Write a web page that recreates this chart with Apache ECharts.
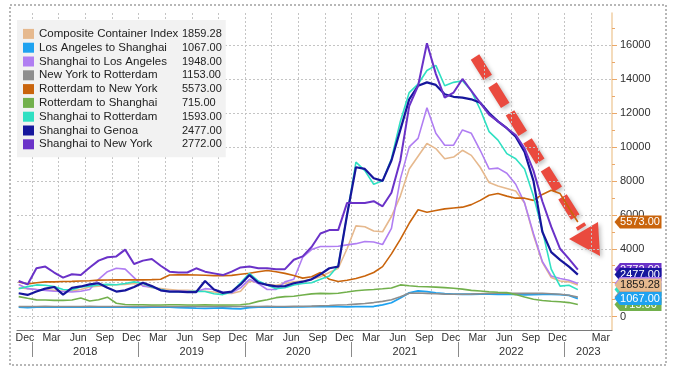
<!DOCTYPE html>
<html><head><meta charset="utf-8">
<script src="https://cdn.jsdelivr.net/npm/echarts@6/dist/echarts.min.js"></script>
<style>html,body{margin:0;padding:0;background:#fff}#c{width:673px;height:374px}</style>
</head><body><div id="c"></div>
<script>
// ---------- DATA ----------
const dates = ['2017-11','2017-12',
 '2018-01','2018-02','2018-03','2018-04','2018-05','2018-06','2018-07','2018-08','2018-09','2018-10','2018-11','2018-12',
 '2019-01','2019-02','2019-03','2019-04','2019-05','2019-06','2019-07','2019-08','2019-09','2019-10','2019-11','2019-12',
 '2020-01','2020-02','2020-03','2020-04','2020-05','2020-06','2020-07','2020-08','2020-09','2020-10','2020-11','2020-12',
 '2021-01','2021-02','2021-03','2021-04','2021-05','2021-06','2021-07','2021-08','2021-09','2021-10','2021-11','2021-12',
 '2022-01','2022-02','2022-03','2022-04','2022-05','2022-06','2022-07','2022-08','2022-09','2022-10','2022-11','2022-12',
 '2023-01','2023-02'];

const seriesNames = ['Composite Container Index','Los Angeles to Shanghai','Shanghai to Los Angeles','New York to Rotterdam',
 'Rotterdam to New York','Rotterdam to Shanghai','Shanghai to Rotterdam','Shanghai to Genoa','Shanghai to New York'];

const composite = [1700,1650,1600,1580,1550,1500,1520,1600,1750,1800, 1850,1880,1900,1950,1850,1700,1650,1600,1550,1550,
 1520,1500,1450,1380,1370,1500,2100,2000,1900,1850, 1950,2050,2100,2200,2350,2600,2850,4000,5350,5300,
 5050,5000,5900,7100,8700,9450,10200,9900,9300,9400, 9800,9500,8800,7900,7700,7550,7400,6700,4800,3200,
 2300,2100,2050,1859.28];
const laToShanghai = [560,540,560,570,570,560,570,580,570,580, 570,560,560,550,550,560,570,560,540,520,
 500,490,500,510,480,460,540,560,560,570, 570,580,580,590,590,590,590,580,590,590,
 600,690,820,1100,1400,1520,1480,1400,1360,1330, 1320,1320,1330,1330,1320,1320,1310,1280,1300,1320,
 1320,1300,1250,1067];
const shanghaiToLA = [1900,1650,1600,1550,1500,1480,1450,1500,1600,2200, 2650,2850,2800,2300,1800,1750,1550,1500,1500,1500,
 1480,1650,1600,1450,1400,1700,2200,1950,1600,1600, 2050,2200,3500,3950,4130,4130,4150,4230,4300,4430,
 4400,4250,5200,8100,10000,10500,12300,10800,10100,10100, 11000,10800,9800,8700,8750,8450,7800,6700,4900,3250,
 2400,2250,2150,1948];
const nyToRotterdam = [600,595,600,605,600,600,595,600,605,600, 600,600,595,600,600,605,600,600,600,595,
 600,600,600,605,600,600,600,600,605,600, 600,605,610,620,640,660,690,700,740,780,
 830,900,1000,1180,1380,1390,1370,1350,1330,1320, 1320,1330,1350,1370,1380,1380,1370,1370,1370,1380,
 1350,1320,1260,1153];
const rotterdamToNY = [2050,1920,2000,2050,2050,2070,2080,2100,2120,2150, 2160,2170,2170,2170,2170,2180,2200,2450,2460,2460,
 2450,2440,2420,2420,2430,2500,2560,2650,2720,2650, 2550,2420,2270,2350,2600,2200,2070,2150,2250,2400,
 2600,2950,3700,4550,5500,6300,6150,6250,6350,6400, 6450,6600,6850,7150,7250,7100,6980,6980,6850,7200,
 7450,7250,6400,5573];
const rotterdamToShanghai = [1180,1080,990,980,960,960,980,1100,920,1000, 1150,790,720,700,700,690,690,700,700,690,
 690,700,690,690,690,700,760,900,1000,1120, 1180,1200,1280,1340,1370,1360,1380,1450,1530,1570,
 1600,1640,1690,1870,1820,1780,1760,1740,1710,1675, 1620,1550,1510,1470,1440,1415,1300,1160,1030,950,
 910,880,830,715];
const shanghaiToRotterdam = [1650,1770,1870,1850,1770,1600,1580,1750,1800,1870, 1900,1880,1950,2050,1950,1750,1600,1480,1470,1480,
 1500,1480,1350,1300,1450,2000,2550,2100,1870,1650, 1700,1870,1950,2000,2200,2400,3000,6000,9100,8600,
 7800,8000,9300,11500,13200,13700,14500,14800,13600,13800, 13900,13300,12200,10900,10400,9600,9300,8700,7100,5100,
 2800,1800,1850,1593];
const shanghaiToGenoa = [1380,1280,1480,1650,1750,1300,1700,1780,1900,1970, 1700,1480,1550,1750,2000,1800,1550,1480,1480,1450,
 1450,2100,1600,1400,1480,1900,2450,2000,1870,1780, 1800,1970,2060,2200,2500,2850,2950,6000,8800,8700,
 8150,8000,9200,11000,12800,13600,13800,13650,13100,12950, 12900,12800,12600,12000,11500,11100,10600,9700,8000,5000,
 3800,3350,2950,2477];
const shanghaiToNY = [2100,1900,2850,2950,2600,2300,2500,2450,2900,3300, 3500,3550,3950,3100,3300,3400,3000,2650,2600,2600,
 2850,2650,2550,2450,2650,2900,2950,2850,2850,2800, 2800,3350,3550,4100,4900,5100,5100,6700,6700,6700,
 6800,6500,7300,9200,12400,13600,16100,14300,12900,13200, 14000,13300,12600,11900,11500,11100,10700,9900,8600,6800,
 5300,4000,3400,2772];

const monthLabels = ['Dec','Mar','Jun','Sep','Dec','Mar','Jun','Sep','Dec','Mar','Jun','Sep','Dec','Mar','Jun','Sep',
 'Dec','Mar','Jun','Sep','Dec','Mar'];
const monthLabelDates = ['2017-12','2018-03','2018-06','2018-09','2018-12','2019-03','2019-06','2019-09','2019-12',
 '2020-03','2020-06','2020-09','2020-12','2021-03','2021-06','2021-09','2021-12','2022-03','2022-06','2022-09','2022-12','2023-03'];
const yearLabels = ['2018','2019','2020','2021','2022','2023'];
const yTickLabels = [0,2000,4000,6000,8000,10000,12000,14000,16000];

// ---------- HELPERS ----------
const FONT = '"Liberation Sans", Arial, sans-serif';
function toMonth(d){ const [y,m] = d.split('-').map(Number); return (y-2018)*12 + (m-1) + 0.5; }
const X_MIN = -1.69, X_MAX = 65.35, Y_MIN = -785, Y_MAX = 17885;

const valuesList = [composite, laToShanghai, shanghaiToLA, nyToRotterdam, rotterdamToNY, rotterdamToShanghai,
  shanghaiToRotterdam, shanghaiToGenoa, shanghaiToNY];
const colors = ['#e6b98e','#1ea2f0','#b07ef2','#8e8e8e','#c9640c','#72b04c','#2fe0c2','#16169c','#6a32c8'];
const widths = [1.6,1.8,1.6,1.6,1.6,1.6,1.6,2.2,2.0];
const tagText = ['#1a1a1a','#fff','#fff','#fff','#fff','#fff','#fff','#fff','#fff'];

const lastVals = {};
seriesNames.forEach((n,i)=>{ const v = valuesList[i]; lastVals[n] = v[v.length-1].toFixed(2); });

const monthPos = monthLabelDates.map((d,i)=> toMonth(d) - 0.3 + (i === monthLabelDates.length-1 ? 1.9 : 0));
const monthMap = {}; monthPos.forEach((p,i)=>{ monthMap[p.toFixed(2)] = monthLabels[i]; });
const yearPos = yearLabels.map((y,i)=> i < yearLabels.length-1 ? 6 + 12*i : (12*i + X_MAX)/2);
const yearMap = {}; yearPos.forEach((p,i)=>{ yearMap[p.toFixed(2)] = yearLabels[i]; });
const yearSep = yearLabels.map((y,i)=> 12*i);
const quarterGrid = []; for (let q = 0; q <= 63; q += 3) quarterGrid.push(q);
const yMinor = yTickLabels.map(v => v + 1000);

const TAG = 'path://M0,6.5L6,0L52,0L52,13L6,13Z';

const series = seriesNames.map((name,i)=>({
  name, type:'line', xAxisIndex:0, yAxisIndex:0, symbol:'none', showSymbol:false,
  data: dates.map((d,j)=>[toMonth(d), valuesList[i][j]]),
  lineStyle:{color:colors[i], width:widths[i]},
  itemStyle:{color:colors[i]},
  emphasis:{disabled:true},
  markPoint:{
    silent:true, z: 40 - i, symbol: TAG, symbolSize:[47,13], symbolKeepAspect:false, symbolOffset:[26,0],
    data:[{coord:[X_MAX, valuesList[i][valuesList[i].length-1]]}],
    itemStyle:{color:colors[i]},
    label:{show:true, position:'inside', offset:[2,0], formatter: lastVals[name], color: tagText[i], fontSize:11, fontFamily:FONT}
  }
}));

const chart = echarts.init(document.getElementById('c'));
chart.setOption({
  animation:false,
  backgroundColor:'#fff',
  grid:{left:17, right:61, top:13, bottom:44},
  xAxis:[{
    type:'value', min:X_MIN, max:X_MAX, position:'bottom',
    axisLine:{show:true, onZero:false, lineStyle:{color:'#7a7a7a', width:1}},
    axisTick:{show:false, customValues: quarterGrid},
    splitLine:{show:true, lineStyle:{color:'#c4c4c4', type:[2,2], width:1}},
    axisLabel:{customValues: monthPos, margin:3, fontSize:10.5, fontFamily:FONT, color:'#303030',
      formatter: v => monthMap[Number(v).toFixed(2)] || ''}
  },{
    type:'value', min:X_MIN, max:X_MAX, position:'bottom', offset:12,
    axisLine:{show:false, onZero:false},
    axisTick:{show:true, customValues: yearSep, length:15, lineStyle:{color:'#8a8a8a'}},
    splitLine:{show:false},
    axisLabel:{customValues: yearPos, margin:4, fontSize:11, fontFamily:FONT, color:'#303030',
      formatter: v => yearMap[Number(v).toFixed(2)] || ''}
  }],
  yAxis:[{
    type:'value', min:Y_MIN, max:Y_MAX, position:'right',
    axisLine:{show:true, onZero:false, lineStyle:{color:'#f1cfa4', width:1.5}},
    axisTick:{show:true, customValues: yTickLabels, length:5, lineStyle:{color:'#eaa768'}},
    splitLine:{show:true, lineStyle:{color:'#c4c4c4', type:[2,2], width:1}},
    axisLabel:{customValues: yTickLabels, margin:8, fontSize:11, fontFamily:FONT, color:'#303030',
      formatter: v => String(Math.round(v))}
  },{
    type:'value', min:Y_MIN, max:Y_MAX, position:'right',
    axisLine:{show:false, onZero:false},
    axisTick:{show:true, customValues: yMinor, length:3, lineStyle:{color:'#eaa768'}},
    splitLine:{show:false},
    axisLabel:{show:false}
  }],
  legend:{
    left:17, top:20, orient:'vertical', icon:'rect', itemWidth:11, itemHeight:10, itemGap:0,
    padding:[7,4,6,6], backgroundColor:'#f2f2f2', selectedMode:false, data: seriesNames,
    formatter: name => '{n|' + name + '}{v|' + lastVals[name] + '}',
    textStyle:{fontSize:11.5, fontFamily:FONT, color:'#222', lineHeight:13.8,
      rich:{n:{width:143, fontSize:11.5, fontFamily:FONT, color:'#222', lineHeight:13.8},
            v:{fontSize:11, fontFamily:FONT, color:'#222', lineHeight:13.8}}}
  },
  graphic:[
    {type:'rect', z:0, silent:true, shape:{x:10, y:5, width:656, height:360},
     style:{fill:null, stroke:'#a0a0a0', lineWidth:1.5, lineDash:[2,2]}},
    {type:'group', z:100, silent:true, children:[
      {type:'line', shape:{x1:475, y1:57, x2:582, y2:228},
       style:{stroke:'#ea4a3e', lineWidth:10, lineDash:[24,9], shadowColor:'rgba(0,0,0,0.25)', shadowBlur:4, shadowOffsetX:2, shadowOffsetY:2}},
      {type:'polygon', shape:{points:[[569,239],[598,222],[600,256]]},
       style:{fill:'#ea4a3e', shadowColor:'rgba(0,0,0,0.25)', shadowBlur:4, shadowOffsetX:2, shadowOffsetY:2}}
    ]}
  ],
  series
});
</script>
</body></html>
